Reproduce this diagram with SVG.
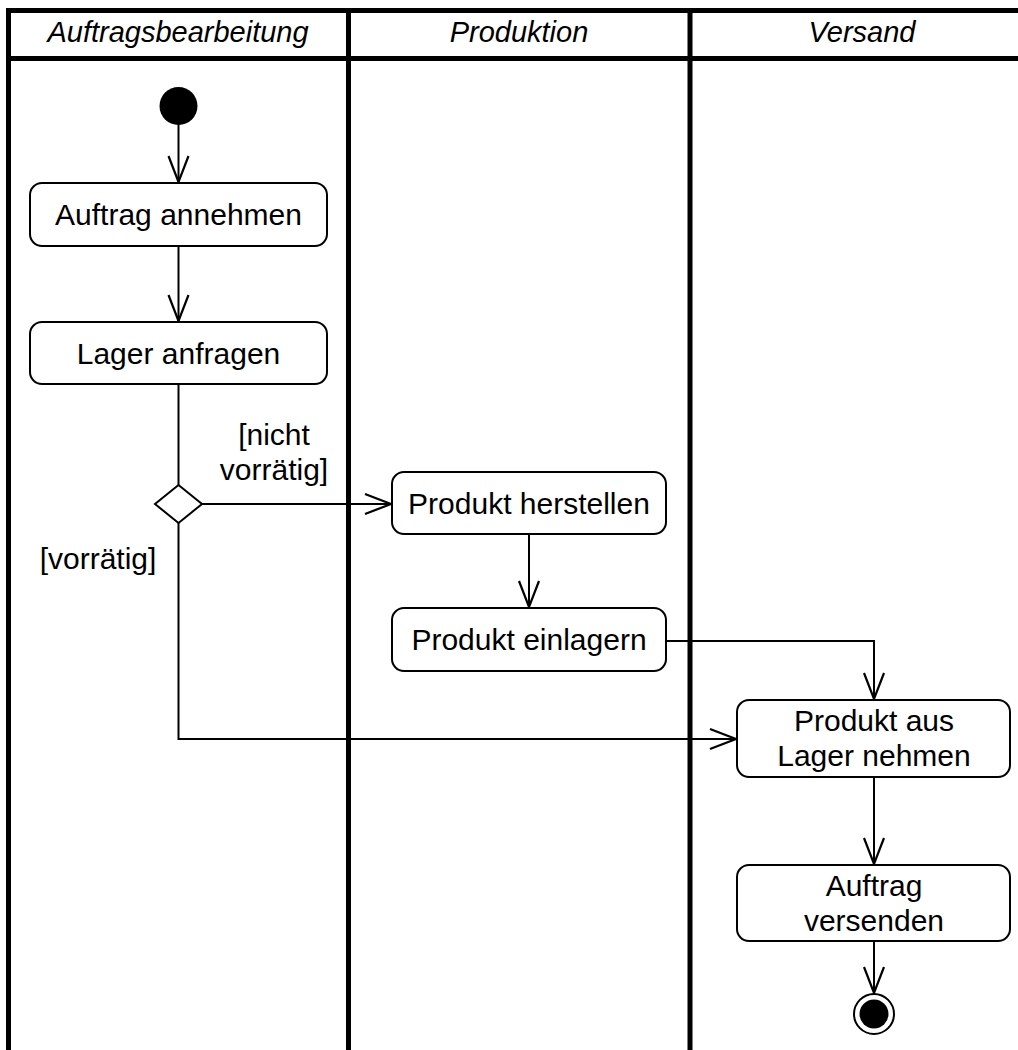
<svg xmlns="http://www.w3.org/2000/svg" width="1018" height="1050" viewBox="0 0 1018 1050">
  <style>
    .frame { stroke: #000; stroke-width: 5; fill: none; }
    .lane-title { font-family: "Liberation Sans", Arial, sans-serif; font-size: 29px; font-style: italic; fill: #000; text-anchor: middle; }
    .action rect { fill: #fff; stroke: #000; stroke-width: 2; }
    .label { font-family: "Liberation Sans", Arial, sans-serif; font-size: 30px; fill: #000; text-anchor: middle; }
    .flow { stroke: #000; stroke-width: 2; fill: none; marker-end: url(#open-arrow); }
    .plain { stroke: #000; stroke-width: 2; fill: none; }
  </style>
  <defs>
    <marker id="open-arrow" markerUnits="userSpaceOnUse" markerWidth="40" markerHeight="30" viewBox="-30 -15 34 30" refX="0" refY="0" orient="auto">
      <path d="M -26 -10 L 0 0 L -26 10" fill="none" stroke="#000" stroke-width="2.2"/>
    </marker>
  </defs>

  <rect width="1018" height="1050" fill="#fff"/>

  <!-- swimlane frame -->
  <g id="swimlanes">
    <line class="frame" x1="6" y1="10.5" x2="1018" y2="10.5"/>
    <line class="frame" x1="6" y1="58.5" x2="1018" y2="58.5"/>
    <line class="frame" x1="8.5" y1="8" x2="8.5" y2="1050"/>
    <line class="frame" x1="348.5" y1="8" x2="348.5" y2="1050"/>
    <line class="frame" x1="690" y1="8" x2="690" y2="1050"/>
    <text class="lane-title" x="178" y="42">Auftragsbearbeitung</text>
    <text class="lane-title" x="519" y="42">Produktion</text>
    <text class="lane-title" x="862" y="42">Versand</text>
  </g>

  <!-- control flows -->
  <g id="connectors">
    <line class="flow" x1="178.5" y1="124" x2="178.5" y2="182"/>
    <line class="flow" x1="178.5" y1="246" x2="178.5" y2="321"/>
    <line class="plain" x1="178.5" y1="384" x2="178.5" y2="485"/>
    <line class="flow" x1="202" y1="504" x2="391" y2="504"/>
    <polyline class="flow" points="178.5,523 178.5,739 736,739"/>
    <line class="flow" x1="529" y1="534" x2="529" y2="607"/>
    <polyline class="flow" points="666,641 874,641 874,699"/>
    <line class="flow" x1="874" y1="777" x2="874" y2="864"/>
    <line class="flow" x1="874" y1="941" x2="874" y2="993"/>
    <text class="label" x="274" y="445">[nicht</text>
    <text class="label" x="274" y="480">vorrätig]</text>
    <text class="label" x="98" y="569">[vorrätig]</text>
  </g>

  <g id="start">
    <circle cx="178.5" cy="106" r="19" fill="#000"/>
  </g>

  <g id="auftrag-annehmen" class="action">
    <rect x="30" y="183" width="297" height="63" rx="12"/>
    <text class="label" x="178.5" y="225">Auftrag annehmen</text>
  </g>

  <g id="lager-anfragen" class="action">
    <rect x="30" y="322" width="297" height="62" rx="12"/>
    <text class="label" x="178.5" y="364">Lager anfragen</text>
  </g>

  <g id="decision">
    <polygon points="178.5,485 202,504 178.5,523 155,504" fill="#fff" stroke="#000" stroke-width="2"/>
  </g>

  <g id="produkt-herstellen" class="action">
    <rect x="392" y="472" width="274" height="62" rx="12"/>
    <text class="label" x="529" y="514">Produkt herstellen</text>
  </g>

  <g id="produkt-einlagern" class="action">
    <rect x="392" y="608" width="274" height="63" rx="12"/>
    <text class="label" x="529" y="650">Produkt einlagern</text>
  </g>

  <g id="produkt-aus-lager" class="action">
    <rect x="737" y="700" width="273" height="77" rx="12"/>
    <text class="label" x="874" y="731">Produkt aus</text>
    <text class="label" x="874" y="766">Lager nehmen</text>
  </g>

  <g id="auftrag-versenden" class="action">
    <rect x="737" y="865" width="273" height="76" rx="12"/>
    <text class="label" x="874" y="896">Auftrag</text>
    <text class="label" x="874" y="931">versenden</text>
  </g>

  <g id="end">
    <circle cx="874" cy="1014" r="20" fill="#fff" stroke="#000" stroke-width="2"/>
    <circle cx="874" cy="1014" r="14.5" fill="#000"/>
  </g>
</svg>
